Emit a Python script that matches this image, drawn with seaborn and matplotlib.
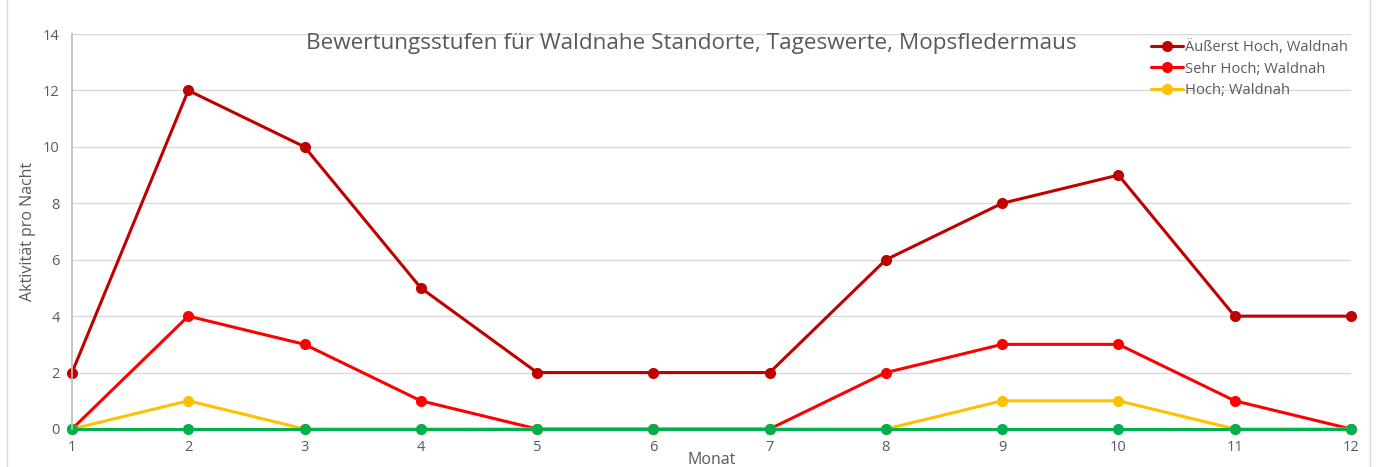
import matplotlib.pyplot as plt
import matplotlib.lines as mlines
import pandas as pd
import seaborn as sns

monate = list(range(1, 13))
aeusserst_hoch = [2, 12, 10, 5, 2, 2, 2, 6, 8, 9, 4, 4]
sehr_hoch = [0, 4, 3, 1, 0, 0, 0, 2, 3, 3, 1, 0]
hoch = [0, 1, 0, 0, 0, 0, 0, 0, 1, 1, 0, 0]
mittel = [0, 0, 0, 0, 0, 0, 0, 0, 0, 0, 0, 0]

serien = {
    "Äußerst Hoch, Waldnah": aeusserst_hoch,
    "Sehr Hoch; Waldnah": sehr_hoch,
    "Hoch; Waldnah": hoch,
    "Mittel; Waldnah": mittel,
}
farben = ["#C00000", "#FF0000", "#FFC000", "#00B050"]

frame = pd.concat(
    [pd.DataFrame({"Monat": monate, "Wert": werte, "Serie": name}) for name, werte in serien.items()]
)

sns.set_theme(style="white")
plt.rcParams["font.family"] = ["Open Sans", "DejaVu Sans"]
grau = "#595959"

fig = plt.figure(figsize=(13.76, 4.67), dpi=100)
ax = fig.add_axes([72 / 1376, 1 - 429 / 467, (1351 - 72) / 1376, (429 - 34) / 467])

order = list(serien.keys())
for name, farbe in zip(order, farben):
    sns.lineplot(
        data=frame[frame["Serie"] == name], x="Monat", y="Wert", color=farbe,
        marker="o", markersize=8, markeredgewidth=0, linewidth=2.2, ax=ax,
        clip_on=False, label=name,
    )

ax.set_xlim(1, 12)
ax.set_ylim(0, 14)
ax.set_xticks(monate)
ax.set_yticks(range(0, 15, 2))
ax.grid(axis="y", color="#D9D9D9", linewidth=1)
ax.grid(axis="x", visible=False)
for side in ["top", "right", "bottom"]:
    ax.spines[side].set_visible(False)
ax.spines["left"].set_color("#BFBFBF")
ax.tick_params(axis="both", colors=grau, labelsize=10.5, length=0)
ax.tick_params(axis="x", pad=8)
ax.tick_params(axis="y", pad=9)

ax.set_xlabel("Monat", color=grau, fontsize=11.5, labelpad=-2)
ax.set_ylabel("Aktivität pro Nacht", color=grau, fontsize=11.5, labelpad=5)
ax.text(
    0.484, 0.975, "Bewertungsstufen für Waldnahe Standorte, Tageswerte, Mopsfledermaus",
    transform=ax.transAxes, ha="center", va="center", color=grau, fontsize=16.2,
)

handles = [
    mlines.Line2D([], [], color=f, marker="o", markersize=8, markeredgewidth=0, linewidth=2.2)
    for f in farben[:3]
]
ax.legend(
    handles, order[:3], loc="upper right", bbox_to_anchor=(1.002, 1.0), frameon=False,
    fontsize=10.6, labelcolor=grau, handlelength=2.2, handletextpad=0.1, labelspacing=0.45,
    borderaxespad=0,
)

for x in (7 / 1376, 1370 / 1376):
    fig.add_artist(mlines.Line2D([x, x], [0, 1], color="#D9D9D9", linewidth=1, transform=fig.transFigure))

fig.savefig("out.png", dpi=100)
